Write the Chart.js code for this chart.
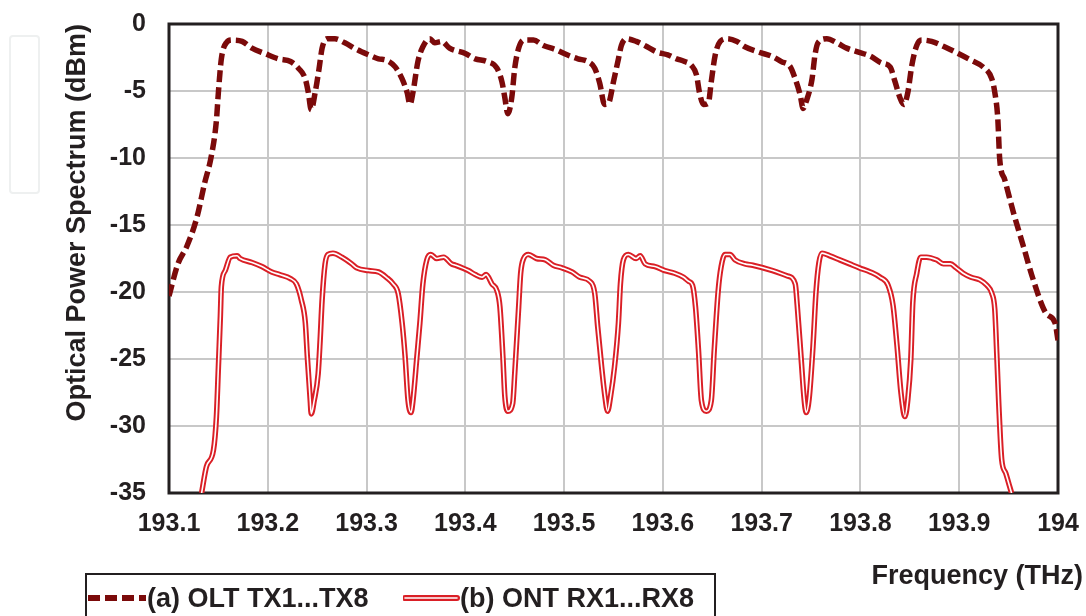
<!DOCTYPE html>
<html>
<head>
<meta charset="utf-8">
<script src="https://cdn.jsdelivr.net/npm/chart.js@4.4.1/dist/chart.umd.min.js"></script>
<style>
  html, body { margin: 0; padding: 0; background: #fff; }
  #wrap { position: relative; width: 1086px; height: 616px; overflow: hidden; font-family: "Liberation Sans", Arial, sans-serif; }
  #spectrumChart { position: absolute; left: 0; top: 0; }
  .side-tab { position: absolute; left: 9px; top: 35px; width: 27px; height: 155px; border: 2px solid #eef0f0; border-radius: 4px; }
  .x-title { position: absolute; right: 3px; top: 562px; font-size: 27px; line-height: 27px; font-weight: bold; color: #231f20; white-space: nowrap; }
  .legend-box { position: absolute; left: 85px; top: 573px; width: 627px; height: 80px; border: 2px solid #231f20; }
  .legend-box svg { position: absolute; top: 15px; }
  .legend-box span { position: absolute; top: 10px; font-size: 27px; line-height: 27px; font-weight: bold; color: #231f20; white-space: nowrap; }
</style>
</head>
<body>
<div id="wrap">
  <canvas id="spectrumChart" width="1086" height="616"></canvas>
  <div class="side-tab"></div>
  <div class="x-title">Frequency (THz)</div>
  <div class="legend-box">
    <svg style="left:1px" width="60" height="16"><line x1="0" y1="8" x2="58" y2="8" stroke="#7b0a0a" stroke-width="6" stroke-dasharray="12,5"/></svg>
    <span style="left:60px">(a) OLT TX1...TX8</span>
    <svg style="left:316px" width="58" height="16"><line x1="2" y1="8" x2="54" y2="8" stroke="#da1f26" stroke-width="6" stroke-linecap="round"/><line x1="2" y1="8" x2="54" y2="8" stroke="#fff" stroke-width="1.6" stroke-linecap="round"/></svg>
    <span style="left:373px">(b) ONT RX1...RX8</span>
  </div>
</div>
<script>
// axis ticks
const xTicks = [193.1, 193.2, 193.3, 193.4, 193.5, 193.6, 193.7, 193.8, 193.9, 194];
const yTicks = [0, -5, -10, -15, -20, -25, -30, -35];

// (a) OLT TX1...TX8 spectrum
const oltFreq = [
  193.100, 193.109, 193.118, 193.128, 193.136, 193.143, 193.148, 193.150, 193.153, 193.158,
  193.164, 193.174, 193.184, 193.197, 193.211, 193.223, 193.231, 193.238, 193.241, 193.244,
  193.248, 193.252, 193.255, 193.260, 193.268, 193.278, 193.290, 193.302, 193.312, 193.320,
  193.329, 193.336, 193.341, 193.344, 193.347, 193.352, 193.357, 193.364, 193.369, 193.376,
  193.384, 193.400, 193.410, 193.422, 193.432, 193.437, 193.440, 193.443, 193.447, 193.450,
  193.454, 193.459, 193.469, 193.479, 193.491, 193.503, 193.514, 193.524, 193.531, 193.536,
  193.541, 193.545, 193.550, 193.555, 193.558, 193.563, 193.573, 193.584, 193.594, 193.605,
  193.614, 193.622, 193.629, 193.634, 193.637, 193.641, 193.646, 193.649, 193.653, 193.658,
  193.665, 193.675, 193.683, 193.697, 193.710, 193.720, 193.729, 193.734, 193.739, 193.742,
  193.745, 193.751, 193.754, 193.757, 193.766, 193.776, 193.786, 193.798, 193.810, 193.821,
  193.830, 193.835, 193.840, 193.844, 193.848, 193.852, 193.857, 193.862, 193.872, 193.885,
  193.899, 193.912, 193.924, 193.933, 193.936, 193.939, 193.941, 193.946, 193.955, 193.965,
  193.975, 193.988, 193.997, 194.000
];
const oltPower = [
  -20.3, -17.9, -16.6, -14.5, -11.9, -9.8, -7.2, -5.1, -2.6, -1.4,
  -1.2, -1.3, -1.8, -2.2, -2.6, -2.8, -3.3, -4.1, -5.1, -6.4,
  -5.1, -3.3, -1.8, -1.1, -1.1, -1.4, -1.9, -2.3, -2.6, -2.7,
  -3.2, -4.1, -5.1, -6.0, -5.1, -2.8, -1.7, -1.1, -1.4, -1.3,
  -1.8, -2.2, -2.6, -2.8, -3.3, -4.3, -5.5, -6.7, -5.5, -3.3,
  -1.8, -1.2, -1.2, -1.6, -1.9, -2.3, -2.6, -2.8, -3.3, -4.4,
  -6.0, -5.9, -4.3, -2.6, -1.6, -1.1, -1.3, -1.7, -2.1, -2.3,
  -2.6, -2.8, -3.1, -3.8, -5.1, -6.0, -5.9, -4.3, -2.3, -1.3,
  -1.1, -1.3, -1.7, -2.1, -2.4, -2.8, -3.2, -4.1, -5.3, -6.3,
  -5.8, -4.1, -2.3, -1.4, -1.1, -1.4, -1.8, -2.1, -2.4, -2.9,
  -3.2, -4.3, -5.5, -6.0, -5.1, -3.1, -1.6, -1.2, -1.3, -1.7,
  -2.2, -2.7, -3.2, -4.1, -5.1, -7.0, -10.1, -11.6, -14.1, -16.6,
  -19.1, -21.6, -22.3, -23.6
];

// (b) ONT RX1...RX8 spectrum
const ontFreq = [
  193.133, 193.138, 193.145, 193.148, 193.150, 193.152, 193.153, 193.157, 193.162, 193.169,
  193.172, 193.184, 193.194, 193.204, 193.212, 193.223, 193.229, 193.234, 193.238, 193.240,
  193.243, 193.244, 193.247, 193.251, 193.253, 193.255, 193.258, 193.261, 193.266, 193.275,
  193.285, 193.290, 193.302, 193.312, 193.320, 193.327, 193.332, 193.336, 193.339, 193.342,
  193.345, 193.347, 193.351, 193.354, 193.357, 193.361, 193.365, 193.371, 193.378, 193.386,
  193.390, 193.403, 193.410, 193.417, 193.421, 193.427, 193.432, 193.435, 193.438, 193.440,
  193.443, 193.448, 193.450, 193.454, 193.456, 193.459, 193.464, 193.472, 193.481, 193.489,
  193.498, 193.508, 193.516, 193.526, 193.531, 193.534, 193.538, 193.541, 193.544, 193.547,
  193.551, 193.555, 193.557, 193.560, 193.565, 193.573, 193.577, 193.582, 193.592, 193.602,
  193.612, 193.621, 193.626, 193.630, 193.633, 193.636, 193.639, 193.644, 193.649, 193.652,
  193.656, 193.659, 193.663, 193.668, 193.673, 193.683, 193.691, 193.711, 193.726, 193.734,
  193.736, 193.740, 193.743, 193.745, 193.748, 193.752, 193.755, 193.758, 193.761, 193.769,
  193.779, 193.789, 193.799, 193.810, 193.820, 193.828, 193.833, 193.837, 193.841, 193.845,
  193.848, 193.851, 193.853, 193.857, 193.861, 193.867, 193.877, 193.884, 193.891, 193.897,
  193.904, 193.912, 193.921, 193.928, 193.933, 193.936, 193.938, 193.940, 193.943, 193.947,
  193.951, 193.953
];
const ontPower = [
  -35.0, -33.0, -31.8, -29.3, -25.6, -21.8, -19.6, -18.4, -17.4, -17.3,
  -17.5, -17.8, -18.1, -18.5, -18.7, -19.0, -19.4, -20.6, -22.3, -24.8,
  -28.1, -29.1, -28.1, -26.1, -23.6, -20.6, -17.9, -17.2, -17.1, -17.4,
  -17.9, -18.2, -18.4, -18.5, -18.9, -19.4, -20.1, -22.3, -24.8, -28.1,
  -29.0, -28.1, -24.8, -22.3, -19.4, -17.6, -17.2, -17.5, -17.4, -17.9,
  -18.0, -18.4, -18.7, -18.9, -18.7, -19.4, -19.9, -21.1, -24.8, -27.8,
  -28.9, -28.3, -26.1, -21.1, -18.6, -17.5, -17.2, -17.5, -17.6, -18.0,
  -18.2, -18.5, -18.9, -19.2, -20.1, -22.6, -25.6, -27.6, -28.9, -27.8,
  -25.6, -22.3, -19.4, -17.6, -17.2, -17.5, -17.3, -17.9, -18.1, -18.4,
  -18.6, -18.9, -19.2, -19.5, -21.1, -24.3, -28.1, -28.9, -28.1, -24.3,
  -19.9, -18.1, -17.2, -17.2, -17.6, -17.9, -18.0, -18.4, -18.8, -19.4,
  -21.0, -25.0, -28.0, -29.0, -28.0, -24.0, -20.0, -17.8, -17.1, -17.3,
  -17.6, -17.9, -18.2, -18.5, -18.9, -19.5, -21.0, -24.0, -27.5, -29.3,
  -28.0, -25.0, -20.8, -18.6, -17.4, -17.4, -17.6, -17.9, -17.9, -18.2,
  -18.6, -18.9, -19.1, -19.5, -20.1, -21.3, -24.6, -28.3, -32.5, -33.5,
  -34.5, -35.0
];

const textColor = '#231f20';

function toPoints(xs, ys) {
    return xs.map((x, i) => ({ x: x, y: ys[i] }));
}

// dark frame round the plot area
const plotFrame = {
    id: 'plotFrame',
    beforeDatasetsDraw(chart) {
        const a = chart.chartArea;
        const ctx = chart.ctx;
        ctx.save();
        ctx.strokeStyle = textColor;
        ctx.lineWidth = 3;
        ctx.strokeRect(a.left, a.top, a.right - a.left, a.bottom - a.top);
        ctx.restore();
    }
};

const ontPoints = toPoints(ontFreq, ontPower);

new Chart(document.getElementById('spectrumChart').getContext('2d'), {
    type: 'line',
    data: {
        datasets: [
            { label: '(a) OLT TX1...TX8', data: toPoints(oltFreq, oltPower), borderColor: '#7b0a0a', borderWidth: 5.5, borderDash: [12, 5], borderCapStyle: 'butt', cubicInterpolationMode: 'monotone', pointRadius: 0, order: 2 },
            { label: 'ont-core', data: ontPoints, borderColor: '#ffffff', borderWidth: 1.6, cubicInterpolationMode: 'monotone', pointRadius: 0, order: 0 },
            { label: '(b) ONT RX1...RX8', data: ontPoints, borderColor: '#da1f26', borderWidth: 5.5, cubicInterpolationMode: 'monotone', pointRadius: 0, order: 1 }
        ]
    },
    options: {
        responsive: false,
        animation: false,
        events: [],
        layout: { padding: { top: 24, right: 28, bottom: 83, left: 0 } },
        plugins: { legend: { display: false }, tooltip: { enabled: false } },
        scales: {
            x: {
                type: 'linear', min: 193.1, max: 194,
                afterBuildTicks: s => { s.ticks = xTicks.map(v => ({ value: v })); },
                afterFit: s => { s.height = 40; s.paddingLeft = 0; s.paddingRight = 0; },
                grid: { color: '#c8c8c8', lineWidth: 2, drawTicks: false },
                border: { display: false },
                ticks: { padding: 16, color: textColor, font: { family: 'Liberation Sans', size: 25, weight: 'bold' }, maxRotation: 0, autoSkip: false, callback: v => String(v) }
            },
            y: {
                min: -35, max: 0,
                afterBuildTicks: s => { s.ticks = yTicks.map(v => ({ value: v })); },
                afterFit: s => { s.width = 169; s.paddingTop = 0; s.paddingBottom = 0; },
                grid: { color: '#c8c8c8', lineWidth: 2, drawTicks: false },
                border: { display: false },
                ticks: { padding: 23, color: textColor, font: { family: 'Liberation Sans', size: 25, weight: 'bold' } },
                title: { display: true, text: 'Optical Power Spectrum (dBm)', align: 'end', color: textColor, padding: { top: 61, bottom: 0 }, font: { family: 'Liberation Sans', size: 27, weight: 'bold' } }
            }
        }
    },
    plugins: [plotFrame]
});
</script>
</body>
</html>
